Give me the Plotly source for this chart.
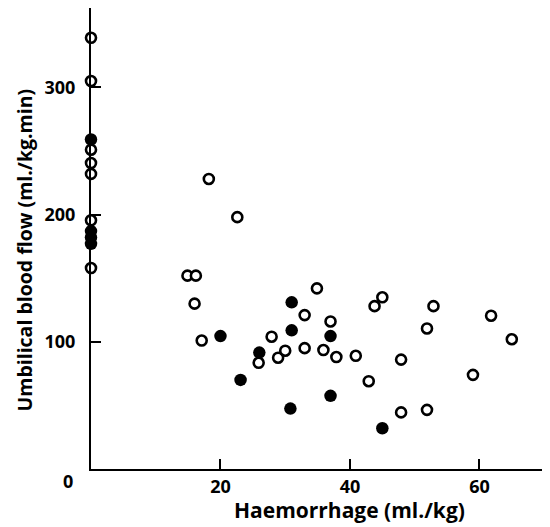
import plotly.graph_objects as go

# Open circles (haemorrhage ml/kg, umbilical blood flow ml/kg.min)
open_x = [0, 0, 0, 0, 0, 0, 0,
          18.2, 22.6, 14.9, 16.2, 16.0, 17.1,
          27.9, 28.9, 30.0, 25.9, 33.0, 33.0, 34.9, 35.9, 37.0, 37.9,
          40.9, 42.9, 43.8, 45.0, 47.9, 47.9, 51.9, 51.9, 52.9,
          59.0, 61.8, 65.0]
open_y = [339, 305, 251, 240.5, 232, 195.5, 158,
          228, 198, 152, 152, 130, 101,
          104, 87.5, 93, 83.5, 121, 95, 142, 93.5, 116, 88,
          89, 69, 128, 135, 86, 44.5, 110.5, 46.5, 128,
          74, 120.5, 102]

# Filled circles
filled_x = [0, 0, 0, 0,
            20.0, 23.1, 26.0, 30.8, 31.0, 31.0, 37.0, 37.0, 45.0]
filled_y = [259, 187, 182, 177,
            104.5, 70, 91.5, 47.5, 131, 109, 104.5, 57.5, 32]

x_ticks = [20, 40, 60]
y_ticks = [100, 200, 300]

FONT = "Open Sans"

# page offset of 8px (body margin) compensated by size
W, H = 542, 519
L, T, B = 83, 0, 58
PW, PH = W - L, H - T - B

fig = go.Figure()
fig.add_trace(go.Scatter(
    x=filled_x, y=filled_y, mode="markers",
    marker=dict(symbol="circle", size=12.5, color="black",
                line=dict(width=0)),
    cliponaxis=False, showlegend=False))
fig.add_trace(go.Scatter(
    x=open_x, y=open_y, mode="markers",
    marker=dict(symbol="circle", size=10, color="white",
                line=dict(width=2.6, color="black")),
    cliponaxis=False, showlegend=False))

fig.update_layout(
    width=W, height=H,
    margin=dict(l=L, r=0, t=T, b=B, autoexpand=False),
    paper_bgcolor="white", plot_bgcolor="white",
    font=dict(family=FONT, color="black", size=18),
    xaxis=dict(range=[0, 70.9], showgrid=False, zeroline=False,
               showline=True, linecolor="black", linewidth=2,
               ticks="inside", ticklen=10, tickwidth=2, tickcolor="black",
               tickvals=x_ticks, ticktext=[str(v) for v in x_ticks],
               tickfont=dict(family=FONT, size=18, weight="bold"),
               automargin=False),
    yaxis=dict(range=[0, 362.4], showgrid=False, zeroline=False,
               showline=True, linecolor="black", linewidth=2,
               ticks="inside", ticklen=10, tickwidth=2, tickcolor="black",
               tickvals=y_ticks, ticktext=[str(v) for v in y_ticks],
               tickfont=dict(family=FONT, size=18, weight="bold"),
               automargin=False,
               ticklabelstandoff=10),
    annotations=[
        dict(text="0", xref="paper", yref="paper",
             x=(68 - 91) / PW, y=(469 - 481) / PH,
             xanchor="center", yanchor="middle", showarrow=False,
             font=dict(family=FONT, size=18, weight="bold")),
        dict(text="Haemorrhage (ml./kg)", xref="paper", yref="paper",
             x=(349 - 91) / PW, y=(469 - 510) / PH,
             xanchor="center", yanchor="middle", showarrow=False,
             font=dict(family=FONT, size=21, weight="bold")),
        dict(text="Umbilical blood flow (ml./kg.min)", xref="paper", yref="paper",
             x=(8 - 91) / PW, y=(469 - 250) / PH, textangle=-90,
             xanchor="left", yanchor="middle", showarrow=False,
             font=dict(family=FONT, size=19.5, weight="bold")),
    ],
)

fig.write_html("out.html")
